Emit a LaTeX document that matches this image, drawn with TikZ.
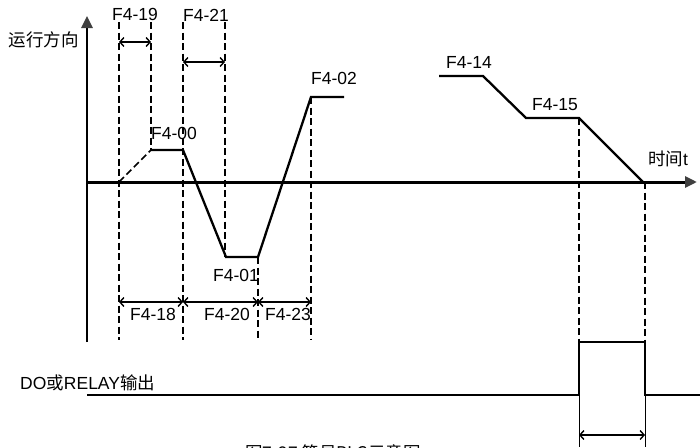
\documentclass[tikz,border=0pt]{standalone}
\usepackage{fontspec}
\setmainfont{Liberation Sans}
\newfontfamily\cjk{Noto Sans CJK SC}
\usetikzlibrary{arrows.meta}
\begin{document}
\begin{tikzpicture}[x=1pt,y=-1pt,
  lbl/.style={font=\fontsize{17.5}{19}\selectfont, inner sep=0pt},
  cjklbl/.style={font=\cjk\fontsize{17.5}{19}\selectfont, inner sep=0pt},
  curve/.style={line width=2.3pt, line join=miter},
  guide/.style={line width=1.7pt, dash pattern=on 7pt off 3.5pt},
  dim/.style={line width=1.4pt, {Straight Barb[length=4pt,width=9pt]}-{Straight Barb[length=4pt,width=9pt]}},
  thin/.style={line width=1pt},
  axisline/.style={line width=3pt, -{Triangle[length=12pt,width=11pt,color=black!75]}}
]
\useasboundingbox (0,0) rectangle (700,447);
\clip (0,0) rectangle (700,447);

% key points
\coordinate (Ybot) at (87,342);
\coordinate (Ytop) at (87,16);
\coordinate (Ymid) at (87,30);
\coordinate (Xst) at (87,182);
\coordinate (Xend) at (697,182);

\coordinate (A0) at (119,182);
\coordinate (A1) at (151,150);
\coordinate (A2) at (183,150);
\coordinate (A3) at (226,257);
\coordinate (A4) at (258,257);
\coordinate (A5) at (311,97);
\coordinate (A6) at (344,97);

\coordinate (B0) at (439,76);
\coordinate (B1) at (483,76);
\coordinate (B2) at (526,118);
\coordinate (B3) at (579,118);
\coordinate (B4) at (643,182);

\coordinate (D0) at (87,395);
\coordinate (D1) at (579,395);
\coordinate (D2) at (579,342);
\coordinate (D3) at (645,342);
\coordinate (D4) at (645,395);
\coordinate (D5) at (700,395);
\coordinate (E1) at (579,447);
\coordinate (E2) at (645,447);

% guide tops/bottoms
\coordinate (g1t) at (119,22);  \coordinate (g1b) at (119,340);
\coordinate (g2t) at (151,22);
\coordinate (g3t) at (183,22);  \coordinate (g3b) at (183,340);
\coordinate (g4t) at (225,22);  \coordinate (g4b) at (225,257);
\coordinate (g5b) at (258,340);
\coordinate (g6b) at (311,340);
\coordinate (g8t) at (645,182);

% dimension ends
\coordinate (d19a) at (119,42);  \coordinate (d19b) at (151,42);
\coordinate (d21a) at (183,62);  \coordinate (d21b) at (225,62);
\coordinate (m1) at (119,302); \coordinate (m2) at (183,302);
\coordinate (m3) at (258,302); \coordinate (m4) at (311,302);
\coordinate (p1) at (579,435); \coordinate (p2) at (645,435);

% dashed guides
\draw[guide] (g1t) -- (g1b);
\draw[guide] (g2t) -- (A1);
\draw[guide] (g3t) -- (g3b);
\draw[guide] (g4t) -- (g4b);
\draw[guide] (A4) -- (g5b);
\draw[guide] (A5) -- (g6b);
\draw[guide] (B3) -- (D2);
\draw[guide] (g8t) -- (D3);
\draw[guide] (A0) -- (A1);

% axes
\draw[line width=2.6pt] (Ybot) -- (Ymid);
\draw[axisline, line width=2.6pt] (Ymid) -- (Ytop);
\draw[axisline] (Xst) -- (Xend);

% curves
\draw[curve] (A1) -- (A2) -- (A3) -- (A4) -- (A5) -- (A6);
\draw[curve] (B0) -- (B1) -- (B2) -- (B3) -- (B4);
\draw[curve] (D0) -- (D1) -- (D2) -- (D3) -- (D4) -- (D5);
\draw[thin] (D1) -- (E1);
\draw[thin] (D4) -- (E2);

% dimensions
\draw[dim] (d19a) -- (d19b);
\draw[dim] (d21a) -- (d21b);
\draw[dim] (m1) -- (m2);
\draw[dim] (m2) -- (m3);
\draw[dim] (m3) -- (m4);
\draw[dim] (p1) -- (p2);

% labels
\node[cjklbl] (ydir) at (44,40) {运行方向};
\node[cjklbl, anchor=west] (tlab) at (648,159) {时间\fontspec{Liberation Sans}t};
\node[lbl] (l19) at (135,14) {F4-19};
\node[lbl] (l21) at (206,15) {F4-21};
\node[lbl] (l00) at (174,133) {F4-00};
\node[lbl] (l02) at (334,78) {F4-02};
\node[lbl] (l01) at (236,275) {F4-01};
\node[lbl] (l18) at (153,314) {F4-18};
\node[lbl] (l20) at (227,314) {F4-20};
\node[lbl] (l23) at (288,314) {F4-23};
\node[lbl] (l14) at (469,62) {F4-14};
\node[lbl] (l15) at (555,105) {F4-15};
\node[lbl, anchor=west] (dol) at (20,383) {DO\cjk 或\fontspec{Liberation Sans}RELAY\cjk 输出};
\node[cjklbl, anchor=north west] (cap) at (245,444) {图7-27\ 简易PLC示意图};
\end{tikzpicture}
\end{document}
